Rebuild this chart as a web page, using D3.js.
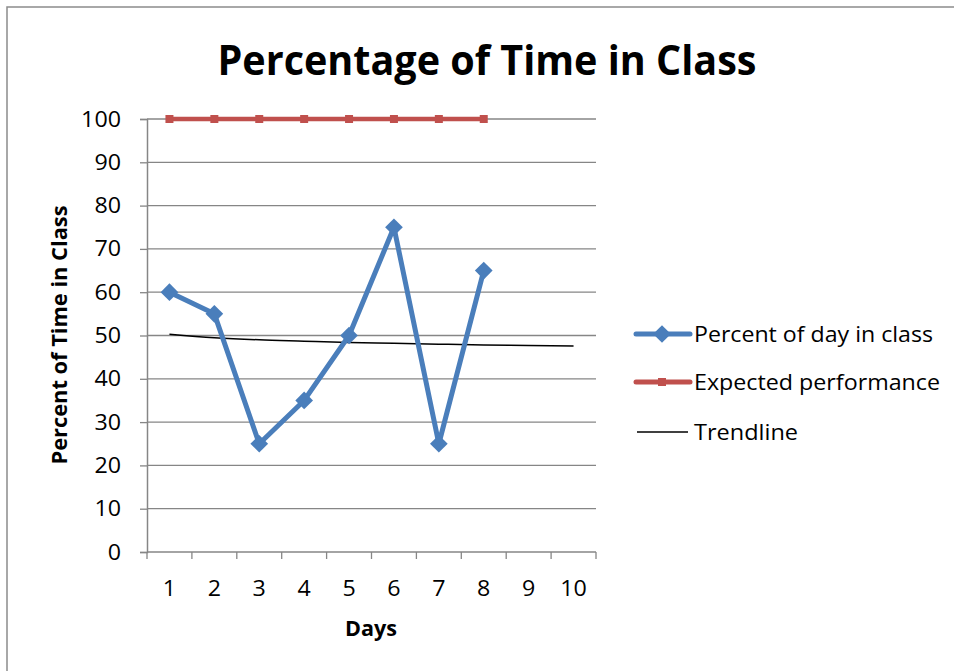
<!DOCTYPE html>
<html>
<head>
<meta charset="utf-8">
<script src="https://cdn.jsdelivr.net/npm/d3@7"></script>
<style>
  html, body { margin: 0; padding: 0; background: #fff; }
  svg { display: block; font-family: "Open Sans", sans-serif; }
</style>
</head>
<body>
<div id="chart"></div>
<script>
const days = [1, 2, 3, 4, 5, 6, 7, 8, 9, 10];
const percentInClass = [60, 55, 25, 35, 50, 75, 25, 65];
const expected = [100, 100, 100, 100, 100, 100, 100, 100];
const trendline = [50.3, 49.5, 49.0, 48.7, 48.4, 48.2, 48.0, 47.8, 47.7, 47.6];
const yTicks = [0, 10, 20, 30, 40, 50, 60, 70, 80, 90, 100];
const legendNames = ["Percent of day in class", "Expected performance", "Trendline"];

const width = 954, height = 671;
const plot = { left: 147, right: 596, top: 119, bottom: 552 };
const blue = "#4a7ebb", red = "#c0504d", grid = "#868686";

const svg = d3.select("#chart").append("svg")
  .attr("width", width).attr("height", height);

// chart border
svg.append("rect")
  .attr("x", 7).attr("y", 7)
  .attr("width", width + 10).attr("height", height + 10)
  .attr("fill", "none").attr("stroke", "#8c8c8c").attr("stroke-width", 1.5);

const x = d3.scaleBand().domain(days).range([plot.left, plot.right]);
const y = d3.scaleLinear().domain([0, 100]).range([plot.bottom, plot.top]);
const cx = d => x(d) + x.bandwidth() / 2;

// gridlines
svg.append("g")
  .selectAll("line")
  .data(yTicks.filter(t => t > 0))
  .join("line")
  .attr("x1", plot.left).attr("x2", plot.right)
  .attr("y1", d => y(d)).attr("y2", d => y(d))
  .attr("stroke", grid).attr("stroke-width", 1.3);

// y axis
const yAxis = svg.append("g")
  .attr("transform", `translate(${plot.left},0)`)
  .call(d3.axisLeft(y).tickValues(yTicks).tickSize(7).tickPadding(19));
yAxis.select(".domain").attr("stroke", grid).attr("stroke-width", 1.5);
yAxis.selectAll(".tick line").attr("stroke", grid).attr("stroke-width", 1.3);
yAxis.selectAll(".tick text")
  .attr("font-size", 22).attr("fill", "#000")
  .attr("textLength", d => String(d).length * 13.3)
  .attr("lengthAdjust", "spacingAndGlyphs")
  .style("font-family", "'Open Sans', sans-serif");

// x axis with ticks at band edges
const xAxis = svg.append("g")
  .attr("transform", `translate(0,${plot.bottom})`);
xAxis.append("line")
  .attr("x1", plot.left).attr("x2", plot.right)
  .attr("stroke", grid).attr("stroke-width", 1.5);
xAxis.selectAll(".edge")
  .data(days.concat([null]))
  .join("line")
  .attr("class", "edge")
  .attr("x1", (d, i) => i < days.length ? x(d) : plot.right)
  .attr("x2", (d, i) => i < days.length ? x(d) : plot.right)
  .attr("y1", 0).attr("y2", 7)
  .attr("stroke", grid).attr("stroke-width", 1.3);
xAxis.selectAll(".lbl")
  .data(days)
  .join("text")
  .attr("class", "lbl")
  .attr("x", d => cx(d)).attr("y", 44)
  .attr("text-anchor", "middle")
  .attr("font-size", 22)
  .attr("textLength", d => String(d).length * 13.3)
  .attr("lengthAdjust", "spacingAndGlyphs")
  .text(d => d);

// titles
svg.append("text")
  .attr("x", 487).attr("y", 75)
  .attr("text-anchor", "middle")
  .attr("font-size", 42).attr("font-weight", "bold")
  .attr("textLength", 539).attr("lengthAdjust", "spacingAndGlyphs")
  .text("Percentage of Time in Class");

svg.append("text")
  .attr("x", 371).attr("y", 636)
  .attr("text-anchor", "middle")
  .attr("font-size", 21).attr("font-weight", "bold")
  .attr("textLength", 52).attr("lengthAdjust", "spacingAndGlyphs")
  .text("Days");

svg.append("text")
  .attr("transform", "translate(67,335) rotate(-90)")
  .attr("text-anchor", "middle")
  .attr("font-size", 21).attr("font-weight", "bold")
  .attr("textLength", 259).attr("lengthAdjust", "spacingAndGlyphs")
  .text("Percent of Time in Class");

// series
const line = d3.line().x((d, i) => cx(days[i])).y(d => y(d));

svg.append("path")
  .datum(trendline)
  .attr("d", line.curve(d3.curveMonotoneX))
  .attr("fill", "none").attr("stroke", "#000").attr("stroke-width", 1.5);
line.curve(d3.curveLinear);

svg.append("path")
  .datum(expected)
  .attr("d", line)
  .attr("fill", "none").attr("stroke", red).attr("stroke-width", 4.5);
svg.append("g").selectAll("rect")
  .data(expected)
  .join("rect")
  .attr("x", (d, i) => cx(days[i]) - 4).attr("y", d => y(d) - 4)
  .attr("width", 8).attr("height", 8)
  .attr("fill", red);

svg.append("path")
  .datum(percentInClass)
  .attr("d", line)
  .attr("fill", "none").attr("stroke", blue).attr("stroke-width", 5)
  .attr("stroke-linejoin", "round");
const diamond = d3.symbol().type(d3.symbolDiamond2).size(200);
svg.append("g").selectAll("path")
  .data(percentInClass)
  .join("path")
  .attr("d", diamond)
  .attr("transform", (d, i) => `translate(${cx(days[i])},${y(d)})`)
  .attr("fill", blue);

// legend
const legendY = [334, 382, 432];
const legendWidths = [239, 246, 104];
const legend = svg.append("g");
legendNames.forEach((name, i) => {
  const g = legend.append("g").attr("transform", `translate(0,${legendY[i]})`);
  if (i === 0) {
    g.append("line").attr("x1", 636).attr("x2", 690)
      .attr("stroke", blue).attr("stroke-width", 5).attr("stroke-linecap", "round");
    g.append("path").attr("d", diamond).attr("transform", "translate(662,0)").attr("fill", blue);
  } else if (i === 1) {
    g.append("line").attr("x1", 636).attr("x2", 690)
      .attr("stroke", red).attr("stroke-width", 5).attr("stroke-linecap", "round");
    g.append("rect").attr("x", 658).attr("y", -4).attr("width", 8).attr("height", 8).attr("fill", red);
  } else {
    g.append("line").attr("x1", 637).attr("x2", 688)
      .attr("stroke", "#000").attr("stroke-width", 1.5);
  }
  g.append("text")
    .attr("x", 694).attr("y", 8)
    .attr("font-size", 22)
    .attr("textLength", legendWidths[i]).attr("lengthAdjust", "spacingAndGlyphs")
    .text(name);
});
</script>
</body>
</html>
